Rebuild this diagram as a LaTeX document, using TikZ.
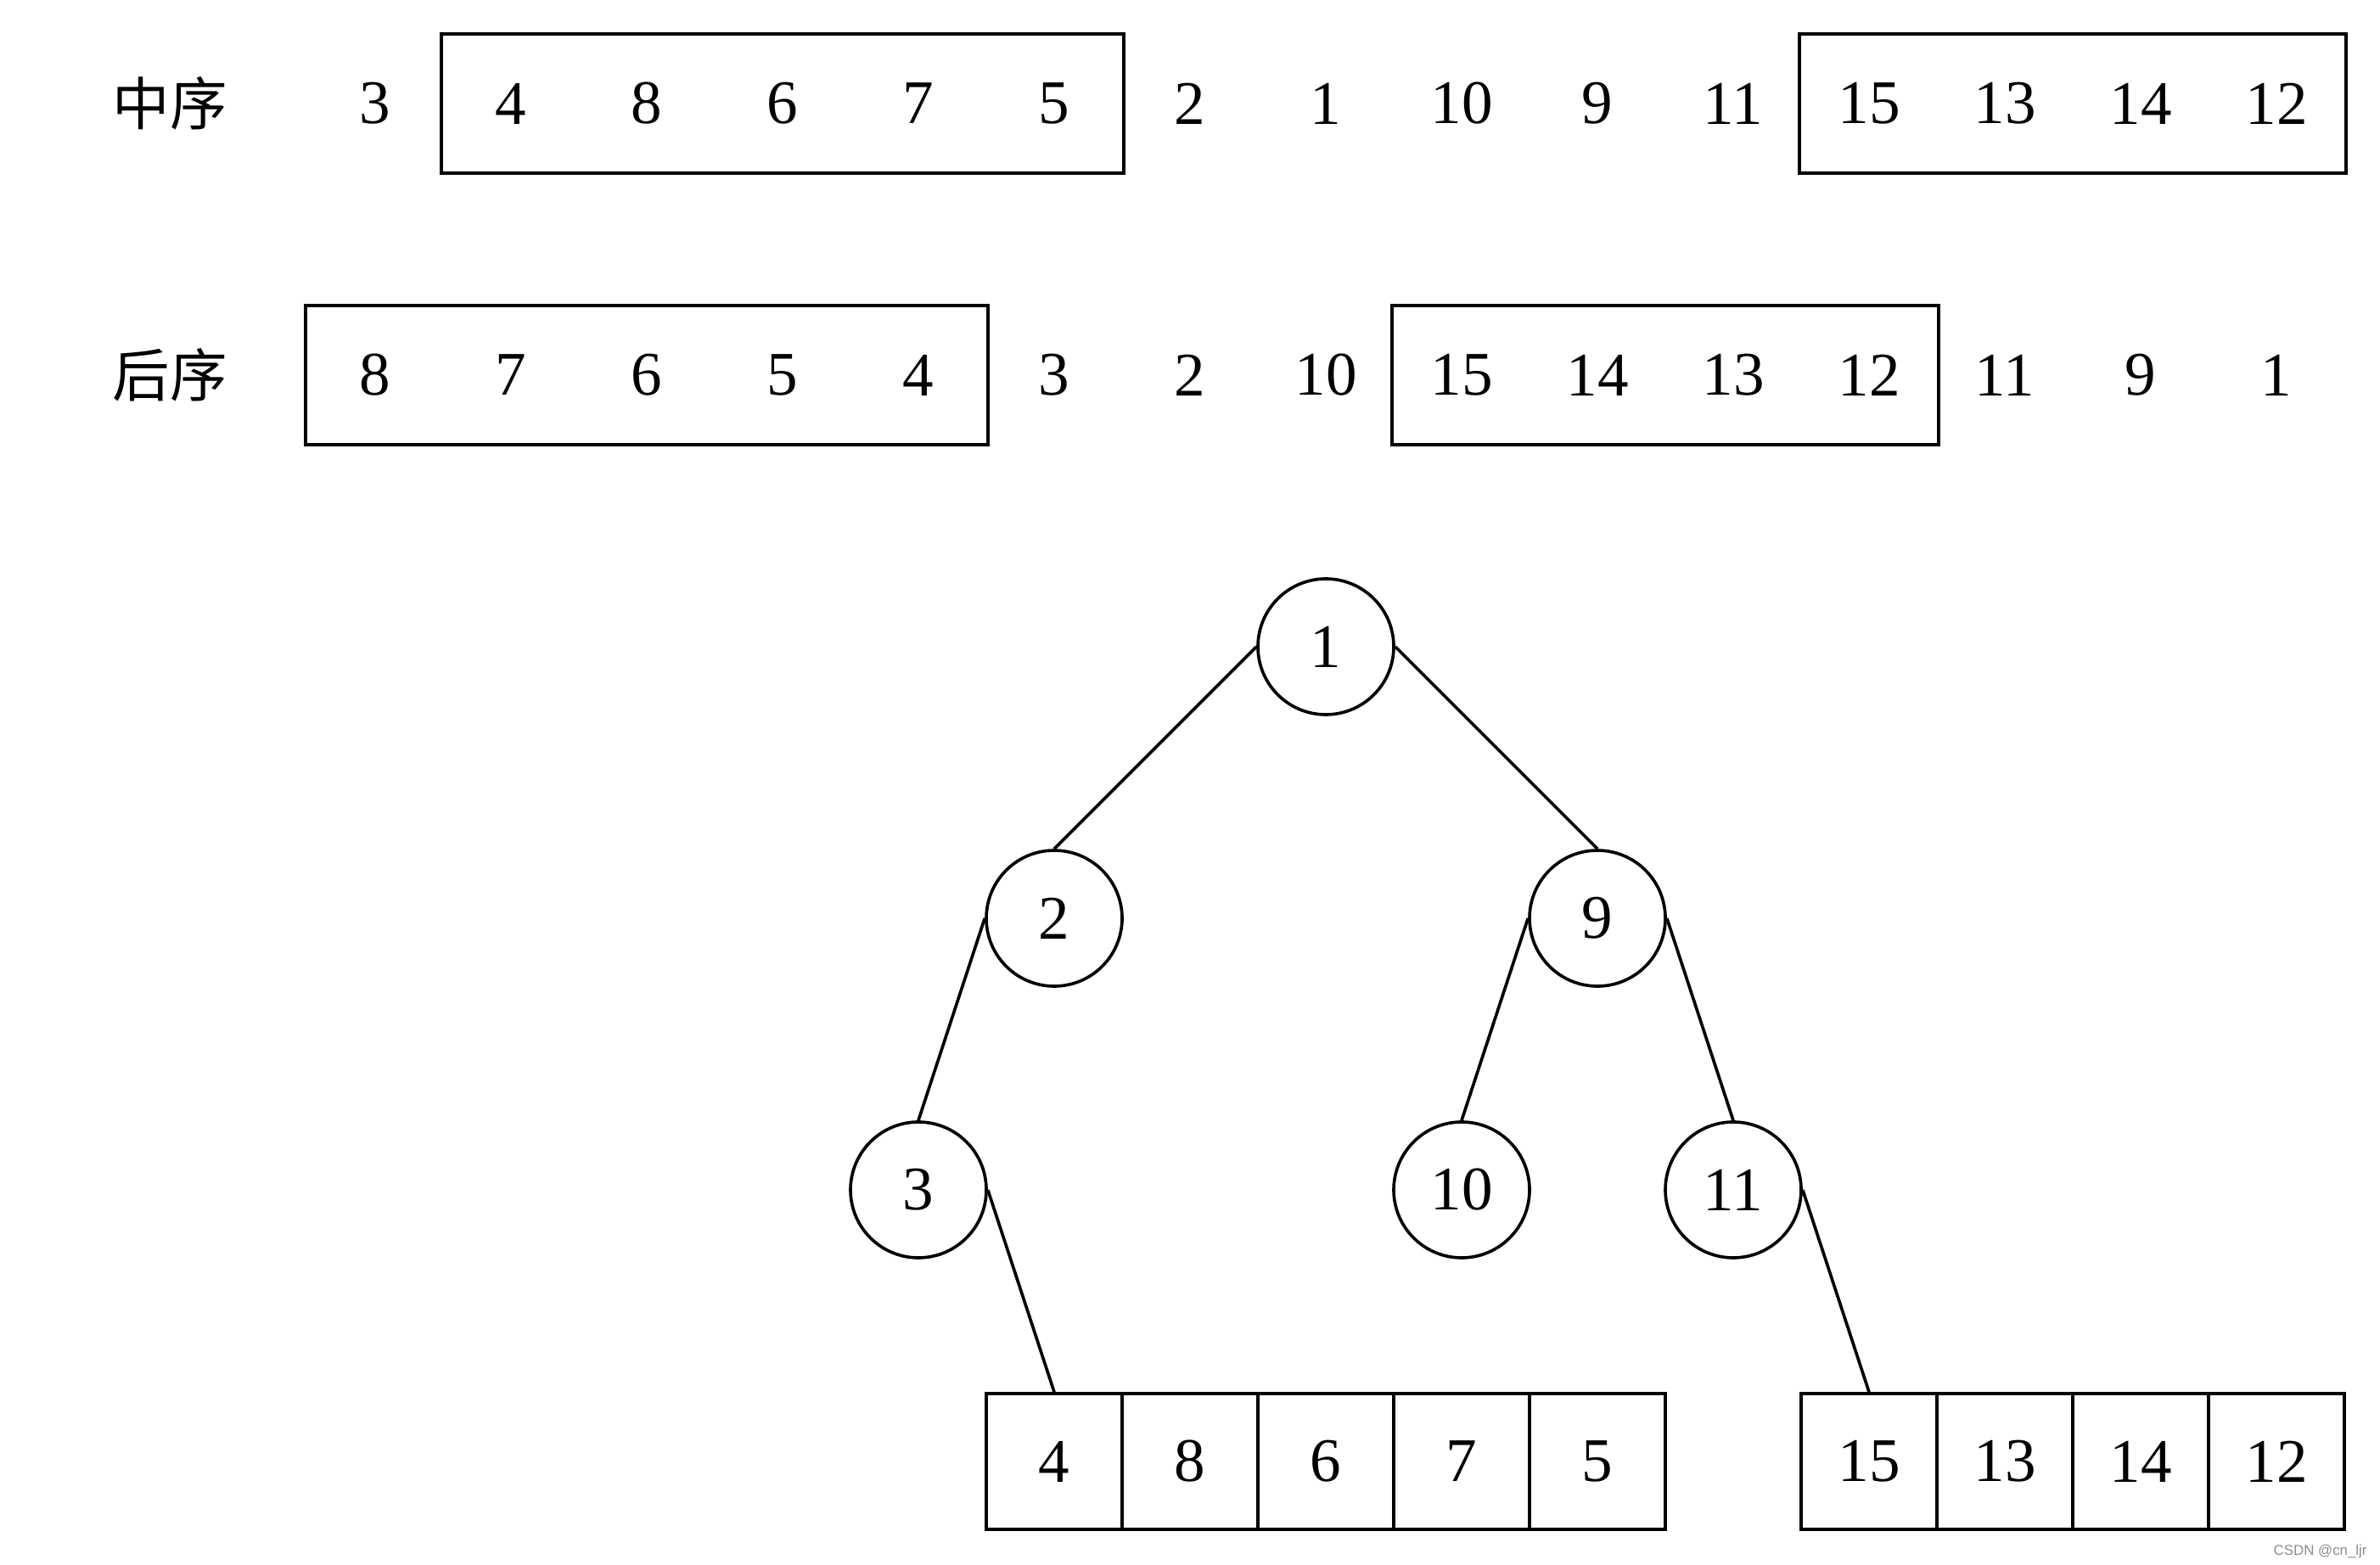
\documentclass[tikz,border=0pt]{standalone}
\usepackage{fontspec}
\setmainfont{Liberation Serif}
\setsansfont{Liberation Sans}
\newfontfamily\cjk{Noto Sans CJK SC}
\usetikzlibrary{fit}
\begin{document}
\begin{tikzpicture}[x=1cm,y=1cm,line width=0.65pt,
  num/.style={minimum width=1cm,minimum height=1cm,inner sep=0pt,font=\fontsize{13}{15}\selectfont},
  grp/.style={draw,inner sep=0pt},
  cellbox/.style={draw,minimum width=1cm,minimum height=1cm,inner sep=0pt,font=\fontsize{13}{15}\selectfont},
  tnode/.style={circle,draw,minimum size=1cm,inner sep=0pt,font=\fontsize{13}{15}\selectfont},
  lbl/.style={inner sep=0pt,font=\cjk\fontsize{12}{14}\selectfont}]
\useasboundingbox (0,0) rectangle (17.525,-11.525);
% labels
\node[lbl] (l1) at (1.25,-0.7625) {中序};
\node[lbl] (l2) at (1.25,-2.7625) {后序};
% row 1 (in-order)
\foreach \v [count=\k from 0] in {3,4,8,6,7,5,2,1,10,9,11,15,13,14,12}
  \node[num] (a\k) at (2.7625+\k,-0.7625) {\v};
\node[grp,fit=(a1)(a5)] (ga1) {};
\node[grp,fit=(a11)(a14)] (ga2) {};
% row 2 (post-order)
\foreach \v [count=\k from 0] in {8,7,6,5,4,3,2,10,15,14,13,12,11,9,1}
  \node[num] (b\k) at (2.7625+\k,-2.7625) {\v};
\node[grp,fit=(b0)(b4)] (gb1) {};
\node[grp,fit=(b8)(b11)] (gb2) {};
% tree
\node[tnode] (t1) at (9.7625,-4.7625) {1};
\node[tnode] (t2) at (7.7625,-6.7625) {2};
\node[tnode] (t9) at (11.7625,-6.7625) {9};
\node[tnode] (t3) at (6.7625,-8.7625) {3};
\node[tnode] (t10) at (10.7625,-8.7625) {10};
\node[tnode] (t11) at (12.7625,-8.7625) {11};
% bottom cells
\foreach \v [count=\k from 0] in {4,8,6,7,5}
  \node[cellbox] (c\k) at (7.7625+\k,-10.7625) {\v};
\foreach \v [count=\k from 0] in {15,13,14,12}
  \node[cellbox] (d\k) at (13.7625+\k,-10.7625) {\v};
% edges
\draw (t1.west) -- (t2.north);
\draw (t1.east) -- (t9.north);
\draw (t2.west) -- (t3.north);
\draw (t9.west) -- (t10.north);
\draw (t9.east) -- (t11.north);
\draw (t3.east) -- (c0.north);
\draw (t11.east) -- (d0.north);
% watermark
\node[anchor=east,inner sep=0pt,text=black!45,font=\sffamily\fontsize{3}{4}\selectfont] (wm) at (17.44,-11.425) {CSDN @cn\_ljr};
\end{tikzpicture}
\end{document}
